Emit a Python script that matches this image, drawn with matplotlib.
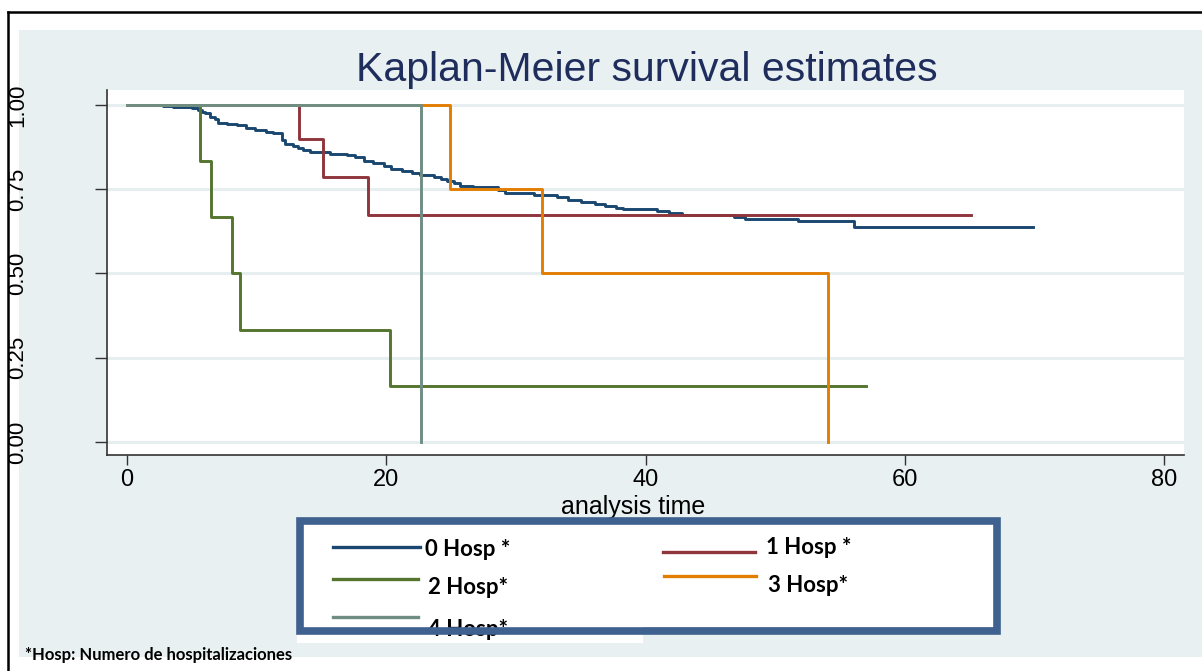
import matplotlib.pyplot as plt
from matplotlib.patches import Rectangle
from matplotlib.lines import Line2D

# Kaplan-Meier curves por numero de hospitalizaciones (tiempo, supervivencia)
t0 = [0, 2.0, 2.8, 3.55, 5.0, 5.5, 5.8, 6.0, 6.4, 6.8, 7.05, 7.7, 8.5, 9.2, 9.9,
      10.7, 11.3, 11.95, 12.2, 12.8, 13.2, 13.6, 14.1, 15.7, 17.0, 17.6, 18.25,
      19.0, 19.8, 20.4, 21.2, 22.0, 22.6, 23.65, 24.2, 24.7, 25.2, 25.7, 26.7,
      28.6, 29.2, 31.4, 33.2, 34.0, 35.0, 36.1, 36.9, 37.7, 38.3, 40.9, 41.8,
      42.8, 46.8, 47.7, 51.8, 56.1, 69.9]
s0 = [1, .999, .997, .995, .990, .985, .980, .975, .965, .958, .948, .944, .941,
      .931, .926, .921, .916, .896, .883, .878, .872, .866, .860, .855, .851,
      .845, .834, .827, .819, .809, .804, .797, .791, .787, .781, .774, .768,
      .760, .756, .748, .740, .733, .728, .718, .712, .706, .701, .694, .690,
      .686, .680, .673, .667, .662, .655, .639, .639]

t1 = [0, 13.3, 15.1, 18.6, 65.1]
s1 = [1, .9, .7875, .675, .675]

t2 = [0, 5.6, 6.5, 8.1, 8.7, 20.3, 57.0]
s2 = [1, .833, .667, .5, .333, .167, .167]

t3 = [0, 24.9, 32.0, 54.1]
s3 = [1, .75, .5, 0]

t4 = [0, 22.7]
s4 = [1, 0]

labels = ['0 Hosp *', '1 Hosp *', '2 Hosp*', '3 Hosp*', '4 Hosp*']
colors = ['#1a476f', '#90353b', '#55752f', '#e37e00', '#6e8e84']
xticks = [0, 20, 40, 60, 80]
yticks = [0, .25, .5, .75, 1]
ytick_labels = ['0.00', '0.25', '0.50', '0.75', '1.00']

W, H = 1202, 671

plt.rcParams['font.family'] = 'Liberation Sans'


def fx(x):
    return x / W


def fy(y):
    return 1 - y / H


def box(x0, y0, x1, y1, **kw):
    return Rectangle((fx(x0), fy(y1)), (x1 - x0) / W, (y1 - y0) / H,
                     transform=fig.transFigure, **kw)


fig = plt.figure(figsize=(W / 100, H / 100), dpi=100)
fig.patch.set_facecolor('white')

# fondo celeste del grafico
fig.add_artist(box(19, 30, 1202, 657, facecolor='#e8f0f2', edgecolor='none', zorder=-5))
# marco negro
fig.add_artist(Line2D([fx(8), fx(8)], [fy(12), 0], transform=fig.transFigure,
                      color='black', lw=1.8, zorder=10))
fig.add_artist(Line2D([fx(8), 1], [fy(12), fy(12)], transform=fig.transFigure,
                      color='black', lw=1.8, zorder=10))

ax = fig.add_axes([fx(107), fy(455), (1184 - 107) / W, (455 - 90) / H])
ax.set_facecolor('white')

curves = [(t0, s0), (t1, s1), (t2, s2), (t3, s3), (t4, s4)]
for (t, s), c in zip(curves, colors):
    ax.step(t, s, where='post', color=c, lw=2.1, zorder=3)

ax.set_xlim(-1.54, 81.54)
ax.set_ylim(-0.0386, 1.0445)
ax.set_xticks(xticks)
ax.set_yticks(yticks)
ax.set_yticklabels(ytick_labels, rotation=90, va='center')
ax.grid(axis='y', color='#e6eef0', lw=2.2, zorder=0)
ax.set_axisbelow(True)
for side in ['top', 'right']:
    ax.spines[side].set_visible(False)
for side in ['left', 'bottom']:
    ax.spines[side].set_color('#333333')
    ax.spines[side].set_linewidth(1.2)

ax.tick_params(axis='x', length=7, width=1, color='#333333', pad=3,
               labelsize=17)
ax.tick_params(axis='y', length=9, width=1, color='#333333', pad=48,
               labelsize=16)

fig.text(fx(633), fy(507), 'analysis time', ha='center', va='center',
         fontsize=18)
fig.text(fx(647), fy(70), 'Kaplan-Meier survival estimates', ha='center',
         va='center', fontsize=29.5, color='#1e2d5c')

# leyenda con recuadro azul
fig.add_artist(box(297, 634, 643, 643, facecolor='white', edgecolor='none', zorder=2))
fig.add_artist(box(300, 521, 997, 631, facecolor='white', edgecolor='none', zorder=3))
fig.add_artist(box(300, 521, 997, 631, facecolor='none', edgecolor='#3f6190',
                   lw=5.5, zorder=7))

legend_pos = [
    (333, 420, 547, 425, 549),
    (663, 755, 552, 766, 548),
    (333, 418, 579, 428, 587),
    (664, 756, 576, 768, 585),
    (333, 418, 617, 428, 629),
]
for (x0, x1, yl, xt, yt), c, lab in zip(legend_pos, colors, labels):
    fig.add_artist(Line2D([fx(x0), fx(x1)], [fy(yl), fy(yl)],
                          transform=fig.transFigure, color=c, lw=2.4, zorder=4))
    fig.text(fx(xt), fy(yt), lab, ha='left', va='center', fontsize=16,
             fontweight='bold', family='Lato', zorder=5)

fig.add_artist(Line2D([fx(643), fx(995)], [fy(627.5), fy(627.5)],
                      transform=fig.transFigure, color='black', lw=1, zorder=6))

fig.text(fx(25), fy(655), '*Hosp: Numero de hospitalizaciones', ha='left',
         va='center', fontsize=12, fontweight='bold', family='Lato', zorder=6)

fig.savefig('out.png', dpi=100)
